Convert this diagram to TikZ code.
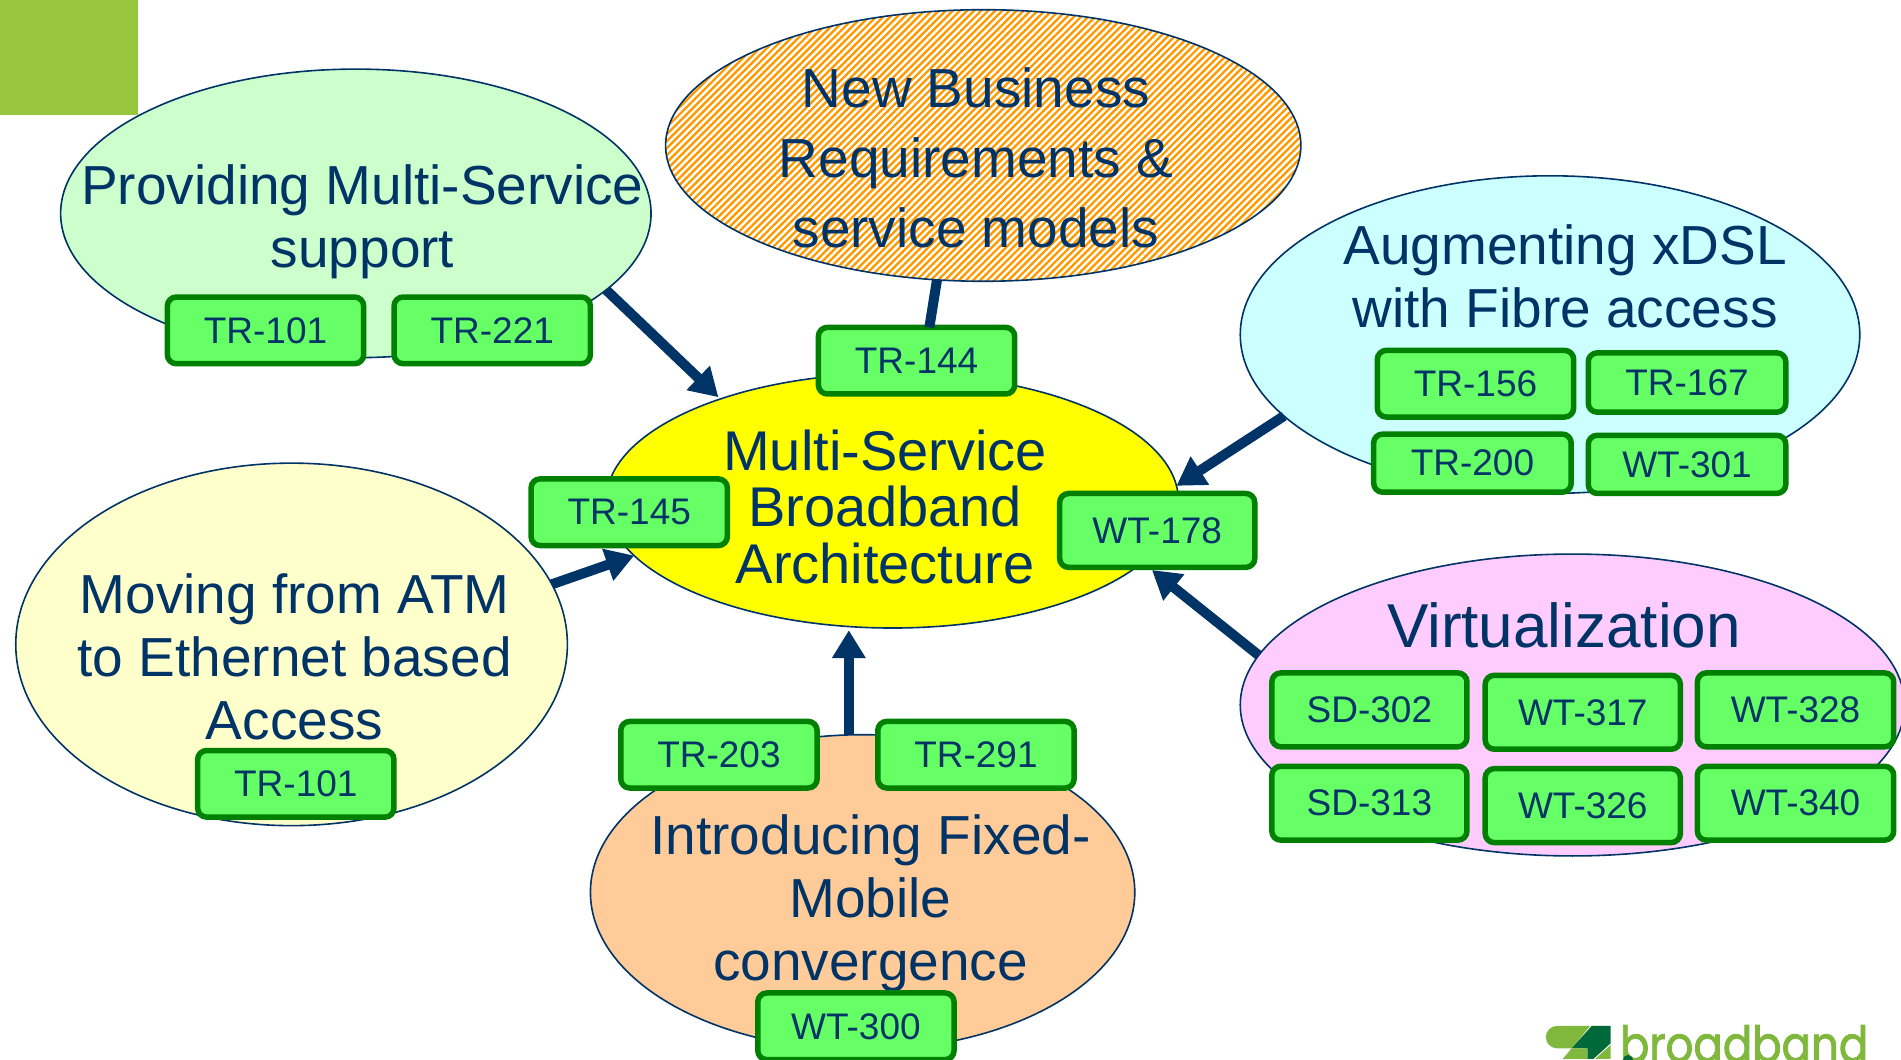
\documentclass[tikz,border=0pt]{standalone}
\usepackage{fontspec}
\setmainfont{Liberation Sans}
\newfontfamily\ellfont{Liberation Sans}
\newfontfamily\logofont[FakeStretch=0.87,FakeBold=1.6]{Poppins}
\usetikzlibrary{shapes.geometric,arrows.meta,patterns.meta,calc}
\definecolor{navy}{HTML}{003366}
\definecolor{boxfill}{HTML}{66FF66}
\definecolor{boxline}{HTML}{008000}
\definecolor{lime}{HTML}{99C63F}
\definecolor{hatchorange}{HTML}{FF9900}
\definecolor{logolight}{HTML}{7FB83D}
\definecolor{logodark}{HTML}{00693A}
\definecolor{coreyellow}{HTML}{FFFF00}
\definecolor{cgreen}{HTML}{CCFFCC}
\definecolor{ccyan}{HTML}{CCFFFF}
\definecolor{cpink}{HTML}{FFCCFF}
\definecolor{cpale}{HTML}{FFFFCC}
\definecolor{cpeach}{HTML}{FFCC99}
\tikzset{
  x=1.2124pt,y=-1.2124pt,
  blob/.style={ellipse,draw=navy,line width=1.6pt,inner sep=0pt,outer sep=0pt},
  gboxstyle/.style={rectangle,rounded corners=9pt,draw=boxline,fill=boxfill,line width=5.5pt,inner sep=0pt,outer sep=0pt,text=navy,font=\fontsize{37}{37}\selectfont},
  ltext/.style={text=navy,align=center,inner sep=0pt,font=\ellfont\fontsize{55}{63}\selectfont},
  link/.style={draw=navy,line width=10pt},
  arrowlink/.style={link,-{Triangle[width=32pt,length=28pt]}},
}
\newcommand{\blobnode}[6]{% name x1 y1 x2 y2 options
  \pgfmathsetmacro{\ew}{(#4-#2)*1.2124}
  \pgfmathsetmacro{\eh}{(#5-#3)*1.2124}
  \node[blob,minimum width=\ew pt,minimum height=\eh pt,#6] (#1) at ({(#2+#4)/2},{(#3+#5)/2}) {};
}
\newcommand{\gbox}[6]{% name x1 y1 x2 y2 text
  \pgfmathsetmacro{\ew}{(#4-#2)*1.2124-2.5}
  \pgfmathsetmacro{\eh}{(#5-#3)*1.2124-2.5}
  \node[gboxstyle,minimum width=\ew pt,minimum height=\eh pt] (#1) at ({(#2+#4)/2},{(#3+#5)/2}) {\raisebox{-1.2pt}{#6}};
}
\begin{document}
\begin{tikzpicture}
\useasboundingbox (0,0) rectangle (1568,873.5);
\fill[white] (0,0) rectangle (1568,873.5);
\fill[lime] (0,0) rectangle (113.5,95);
% ellipses
\blobnode{bgreen}{50}{57}{537}{295}{fill=cgreen}
\blobnode{bcyan}{1023}{145}{1534}{407}{fill=ccyan}
\blobnode{bpink}{1023}{457}{1571}{706}{fill=cpink}
\blobnode{bpale}{13}{382}{468}{681}{fill=cpale}
\blobnode{bpeach}{487}{606}{936}{866}{fill=cpeach}
\blobnode{bhatch}{549}{8}{1073}{232}{preaction={fill=hatchorange},pattern={Lines[angle=45,distance=5pt,line width=2.4pt]},pattern color=white}
\blobnode{bcore}{500}{308}{972}{518}{fill=coreyellow}
% connectors
\gbox{tr144}{674}{269}{838}{326}{TR-144}
\draw[arrowlink] (bgreen.-17.7) -- ($(bcore.149)+(-3,-1)$);
\draw[link] (bhatch.-109) -- (tr144.69);
\draw[arrowlink] (bcyan.-163.2) -- (bcore.3);
\draw[arrowlink] (bpink.171.5) -- ($(bcore.-15.2)+(12,3)$);
\draw[arrowlink] (bpale.13.6) -- (bcore.192.5);
\draw[arrowlink] (bpeach.95.75) -- ($(bpeach.95.75 |- bcore.-109.6)+(0,3)$);
% texts
\node[ltext] (tgreen) at (299,183) {Providing Multi-Service\\support};
\node[ltext,font=\ellfont\fontsize{55}{70}\selectfont] (thatch) at (805,130) {New Business\\Requirements \&\\service models};
\node[ltext] (tcyan) at (1291,228) {Augmenting xDSL\\with Fibre access};
\node[ltext,font=\ellfont\fontsize{56}{56.5}\selectfont] (tcore) at (730,418) {Multi-Service\\Broadband\\Architecture};
\node[ltext] (tpale) at (243,542) {Moving from ATM\\to Ethernet based\\Access};
\node[ltext,font=\ellfont\fontsize{62}{63}\selectfont] (tpink) at (1290,516) {Virtualization};
\node[ltext] (tpeach) at (718,745) {Introducing Fixed-\\Mobile\\convergence};
% green boxes
\gbox{tra}{137}{244}{301}{301}{TR-101}
\gbox{trb}{324}{244}{488}{301}{TR-221}
\gbox{trc}{437}{394}{601}{451}{TR-145}
\gbox{wta}{873}{406}{1036}{469}{WT-178}
\gbox{trd}{1135}{288}{1299}{345}{TR-156}
\gbox{tre}{1309}{290}{1474}{341}{TR-167}
\gbox{trf}{1132}{357}{1297}{407}{TR-200}
\gbox{wtb}{1309}{358}{1474}{408}{WT-301}
\gbox{sda}{1048}{554}{1211}{617}{SD-302}
\gbox{wtc}{1224}{556}{1387}{619}{WT-317}
\gbox{wtd}{1399}{554}{1563}{617}{WT-328}
\gbox{sdb}{1048}{631}{1211}{694}{SD-313}
\gbox{wte}{1224}{633}{1387}{696}{WT-326}
\gbox{wtf}{1399}{631}{1563}{694}{WT-340}
\gbox{trg}{511}{594}{675}{651}{TR-203}
\gbox{trh}{723}{594}{887}{651}{TR-291}
\gbox{tri}{162}{618}{326}{675}{TR-101}
\gbox{wtg}{624}{818}{788}{875}{WT-300}
% logo
\begin{scope}[x=1pt,y=-1pt]
\fill[logolight] (1557,1026) -- (1590,1026) -- (1572,1048.3) -- (1557,1048.3) arc[start angle=-90,end angle=-270,radius=11.15pt] -- cycle;
\fill[logodark] (1591.7,1026) -- (1610.7,1026) -- (1610.7,1043.3) -- (1593.3,1059) -- (1587.3,1059) -- (1587.3,1048.3) -- (1571.7,1048.3) -- cycle;
\fill[logolight] (1562.7,1059) -- (1571.7,1048.3) -- (1587.3,1048.3) -- (1587.3,1059) -- cycle;
\fill[logolight] (1610.7,1045) -- (1610.7,1059) -- (1595,1059) -- cycle;
\end{scope}
\node[anchor=base west,inner sep=0pt,text=logolight,font=\logofont\fontsize{50}{50}\selectfont] (logotext) at (1336,876) {broadband};
\begin{scope}[x=1pt,y=-1pt]
\fill[logodark] (1628,1060) circle[radius=5pt];
\end{scope}
\end{tikzpicture}
\end{document}
